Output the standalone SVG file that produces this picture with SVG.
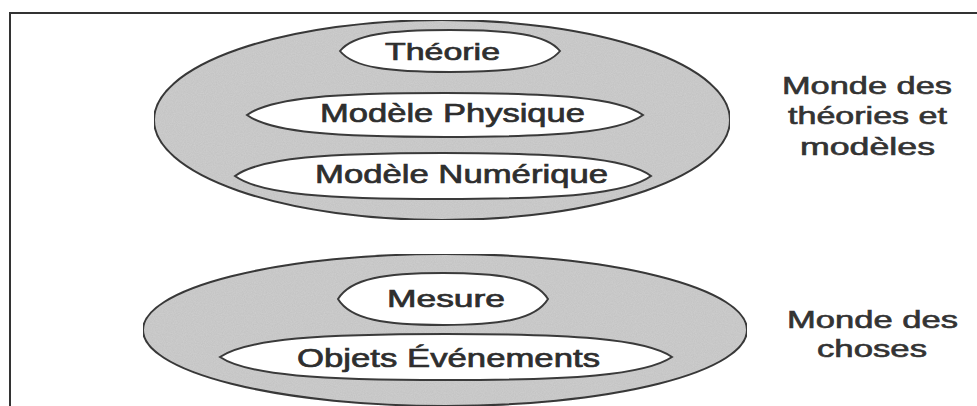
<svg xmlns="http://www.w3.org/2000/svg" width="977" height="406" viewBox="0 0 977 406">
  <style>
    .outer { fill: #cfcfcf; stroke: #3a3a3a; stroke-width: 2; }
    .inner { fill: #ffffff; stroke: #3a3a3a; stroke-width: 2; }
    .lbl { font-family: "Liberation Sans", Arial, sans-serif; fill: #2e2e2e; stroke: #2e2e2e; stroke-width: 0.7; }
    .side { font-family: "Liberation Sans", Arial, sans-serif; fill: #333333; stroke: #333333; stroke-width: 0.6; font-size: 23px; }
  </style>
  <defs>
    <filter id="grain" x="0" y="0" width="100%" height="100%">
      <feTurbulence type="fractalNoise" baseFrequency="0.9" numOctaves="2" seed="3" result="n"/>
      <feColorMatrix in="n" type="matrix" values="0 0 0 0 0  0 0 0 0 0  0 0 0 0 0  0 0 0 0.14 0" result="dots"/>
      <feComposite in="dots" in2="SourceGraphic" operator="in" result="clip"/>
      <feMerge><feMergeNode in="SourceGraphic"/><feMergeNode in="clip"/></feMerge>
    </filter>
  </defs>
  <rect width="977" height="406" fill="#ffffff"/>
  <path d="M10,406 V13 H977" fill="none" stroke="#333333" stroke-width="2"/>

  <g id="monde-theories">
    <ellipse class="outer" cx="442" cy="120" rx="288" ry="100" filter="url(#grain)"/>
    <g id="theorie">
      <path class="inner" d="M340,51 C353.2,34.2 389.5,30 450,30 C510.5,30 546.8,34.2 560,51 C546.8,67.8 510.5,72 450,72 C389.5,72 353.2,67.8 340,51 Z"/>
      <text class="lbl" x="385" y="60" font-size="24" textLength="115" lengthAdjust="spacingAndGlyphs">Théorie</text>
    </g>
    <g id="modele-physique">
      <path class="inner" d="M247,115 C270.8,97.4 336.1,93 445,93 C553.9,93 619.2,97.4 643,115 C619.2,132.6 553.9,137 445,137 C336.1,137 270.8,132.6 247,115 Z"/>
      <text class="lbl" x="320" y="122" font-size="26" textLength="265" lengthAdjust="spacingAndGlyphs">Modèle Physique</text>
    </g>
    <g id="modele-numerique">
      <path class="inner" d="M235,176 C260,157.6 328.6,153 443,153 C557.4,153 626,157.6 651,176 C626,194.4 557.4,199 443,199 C328.6,199 260,194.4 235,176 Z"/>
      <text class="lbl" x="315" y="183" font-size="26" textLength="293" lengthAdjust="spacingAndGlyphs">Modèle Numérique</text>
    </g>
  </g>

  <g id="monde-choses">
    <ellipse class="outer" cx="445" cy="330" rx="302" ry="76" filter="url(#grain)"/>
    <g id="mesure">
      <path class="inner" d="M338,299 C350.6,278.2 385.25,273 443,273 C500.75,273 535.4,278.2 548,299 C535.4,319.8 500.75,325 443,325 C385.25,325 350.6,319.8 338,299 Z"/>
      <text class="lbl" x="387" y="307" font-size="24" textLength="118" lengthAdjust="spacingAndGlyphs">Mesure</text>
    </g>
    <g id="objets-evenements">
      <path class="inner" d="M220,357 C247.1,338.6 321.7,334 446,334 C570.3,334 644.9,338.6 672,357 C644.9,375.4 570.3,380 446,380 C321.7,380 247.1,375.4 220,357 Z"/>
      <text class="lbl" x="297" y="367" font-size="26" textLength="303" lengthAdjust="spacingAndGlyphs">Objets Événements</text>
    </g>
  </g>

  <g id="label-theories">
    <text class="side" x="782" y="94" textLength="170" lengthAdjust="spacingAndGlyphs">Monde des</text>
    <text class="side" x="788" y="124" textLength="159" lengthAdjust="spacingAndGlyphs">théories et</text>
    <text class="side" x="800" y="155" textLength="135" lengthAdjust="spacingAndGlyphs">modèles</text>
  </g>
  <g id="label-choses">
    <text class="side" x="787" y="328" textLength="171" lengthAdjust="spacingAndGlyphs">Monde des</text>
    <text class="side" x="817" y="357" textLength="110" lengthAdjust="spacingAndGlyphs">choses</text>
  </g>

  <g id="connectors"></g>
</svg>
